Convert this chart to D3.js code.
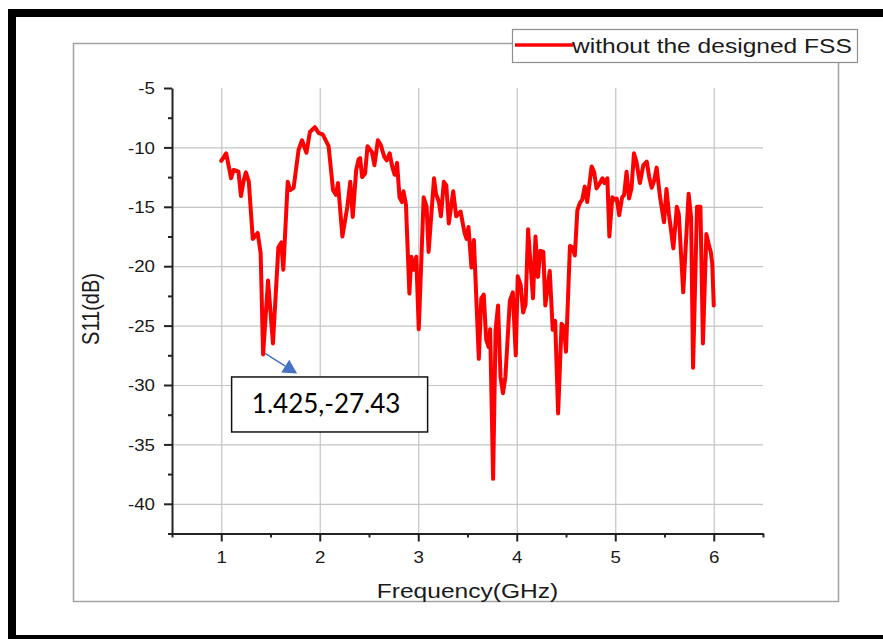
<!DOCTYPE html>
<html>
<head>
<meta charset="utf-8">
<script src="https://cdn.jsdelivr.net/npm/d3@7"></script>
<style>
  body { margin: 0; background: #fff; }
  svg { display: block; }
  text { font-family: "Liberation Sans", Arial, sans-serif; fill: #1a1a1a; }
</style>
</head>
<body>
<div id="chart"></div>
<script>
// S11 curve
const freq = [1.00, 1.05, 1.10, 1.125, 1.175, 1.20, 1.225, 1.25, 1.28, 1.32, 1.37, 1.40, 1.425, 1.475, 1.525,
  1.58, 1.61, 1.63, 1.675, 1.70, 1.735, 1.785, 1.82, 1.865, 1.90, 1.95, 1.99, 2.03, 2.09, 2.135, 2.165, 2.185,
  2.23, 2.28, 2.31, 2.335, 2.37, 2.395, 2.41, 2.43, 2.46, 2.485, 2.53, 2.555, 2.59, 2.62, 2.655, 2.68, 2.71,
  2.735, 2.76, 2.785, 2.81, 2.835, 2.85, 2.875, 2.91, 2.93, 2.955, 2.98, 3.005, 3.055, 3.085, 3.105, 3.16,
  3.18, 3.21, 3.23, 3.26, 3.285, 3.31, 3.355, 3.385, 3.43, 3.47, 3.49, 3.51, 3.54, 3.565, 3.615, 3.64, 3.665,
  3.69, 3.715, 3.73, 3.76, 3.785, 3.81, 3.835, 3.86, 3.885, 3.93, 3.96, 3.99, 4.01, 4.04, 4.065, 4.09, 4.115,
  4.14, 4.165, 4.19, 4.215, 4.24, 4.27, 4.29, 4.335, 4.365, 4.39, 4.42, 4.455, 4.48, 4.50, 4.54, 4.565, 4.59,
  4.615, 4.64, 4.665, 4.69, 4.715, 4.76, 4.785, 4.81, 4.845, 4.87, 4.89, 4.92, 4.94, 4.97, 4.995, 5.015, 5.04,
  5.07, 5.09, 5.115, 5.14, 5.165, 5.19, 5.215, 5.25, 5.285, 5.32, 5.345, 5.37, 5.395, 5.42, 5.455, 5.495, 5.52,
  5.545, 5.59, 5.625, 5.645, 5.69, 5.745, 5.77, 5.79, 5.83, 5.865, 5.89, 5.925, 5.95, 5.97, 5.985, 6.00];
const s11 = [-11.13, -10.5, -12.6, -11.9, -12.05, -14.1, -12.9, -12.1, -12.9, -17.7, -17.2, -18.9, -27.43, -21.2, -26.5,
  -18.4, -18.0, -20.3, -12.9, -13.6, -13.4, -10.2, -9.4, -10.45, -8.7, -8.3, -8.8, -8.9, -9.9, -13.6, -14.0, -13.0,
  -17.5, -15.0, -12.9, -15.85, -11.9, -11.0, -10.9, -12.5, -12.2, -9.9, -10.4, -11.5, -9.4, -9.8, -10.8, -11.1, -10.5,
  -11.6, -12.3, -11.3, -14.2, -14.6, -13.7, -14.8, -22.3, -19.2, -20.3, -19.2, -25.3, -14.2, -15.0, -18.8, -12.6,
  -13.9, -14.6, -15.8, -12.9, -13.2, -16.4, -13.7, -15.8, -15.4, -17.2, -17.7, -16.7, -20.1, -17.8, -27.8, -22.7, -22.4,
  -26.2, -26.8, -25.3, -37.9, -25.4, -23.3, -29.3, -30.7, -29.3, -22.9, -22.2, -27.5, -20.85, -21.6, -23.9, -23.2, -16.9,
  -19.8, -22.7, -17.5, -20.9, -18.7, -18.8, -23.3, -20.4, -25.35, -24.6, -32.4, -24.85, -25.1, -27.2, -18.3, -18.4, -19.1,
  -15.3, -14.7, -14.4, -13.3, -14.6, -11.6, -12.05, -13.45, -13.0, -12.6, -13.0, -12.6, -17.5, -14.2, -14.4, -14.3, -15.7,
  -14.2, -14.0, -12.05, -14.3, -13.45, -10.5, -11.2, -13.0, -11.5, -11.2, -12.5, -13.4, -12.8, -11.7, -14.2, -16.3, -13.5,
  -15.6, -18.5, -15.0, -15.6, -22.2, -13.9, -15.85, -28.55, -15.0, -15.0, -26.5, -17.3, -18.2, -18.8, -19.8, -23.3];

const xTicks = [1, 2, 3, 4, 5, 6];
const xMinor = [0.5, 1.5, 2.5, 3.5, 4.5, 5.5, 6.5];
const yTicks = [-5, -10, -15, -20, -25, -30, -35, -40];
const yMinor = [-7.5, -12.5, -17.5, -22.5, -27.5, -32.5, -37.5, -42.5];
const seriesName = "without the designed FSS";
const marker = { f: 1.425, v: -27.43, label: "1.425,-27.43" };

const W = 883, H = 639;
const SX = 1.17; // the source picture is stretched sideways, so is its text

const svg = d3.select("#chart").append("svg")
  .attr("width", W)
  .attr("height", H);

// outer black frame (left, top, bottom only)
svg.append("rect").attr("x", 8).attr("y", 9).attr("width", 8).attr("height", 630).attr("fill", "#000");
svg.append("rect").attr("x", 8).attr("y", 9).attr("width", 875).attr("height", 8).attr("fill", "#000");
svg.append("rect").attr("x", 8).attr("y", 635).attr("width", 875).attr("height", 4).attr("fill", "#000");

// grey page frame
svg.append("rect")
  .attr("x", 73.5).attr("y", 43.5)
  .attr("width", 765).attr("height", 558)
  .attr("fill", "none")
  .attr("stroke", "#a3a3a3")
  .attr("stroke-width", 1.5);

const x = d3.scaleLinear().domain([0.5, 6.5]).range([172, 763]);
const y = d3.scaleLinear().domain([-42.5, -5]).range([533.5, 88]);

// grid
svg.append("g")
  .attr("transform", "translate(0," + y(-42.5) + ")")
  .call(d3.axisBottom(x).tickValues(xTicks).tickSize(-(y(-42.5) - y(-5))).tickFormat(""))
  .call(g => g.select(".domain").remove())
  .call(g => g.selectAll("line").attr("stroke", "#c4c4c4").attr("stroke-width", 1.2));

svg.append("g")
  .attr("transform", "translate(" + x(0.5) + ",0)")
  .call(d3.axisLeft(y).tickValues(yTicks.filter(d => d !== -5)).tickSize(-(x(6.5) - x(0.5))).tickFormat(""))
  .call(g => g.select(".domain").remove())
  .call(g => g.selectAll("line").attr("stroke", "#c4c4c4").attr("stroke-width", 1.2));

// curve
const data = freq.map((f, i) => ({ f: f, v: s11[i] }));
const line = d3.line().x(d => x(d.f)).y(d => y(d.v));

svg.append("path")
  .datum(data)
  .attr("d", line)
  .attr("fill", "none")
  .attr("stroke", "#ff0000")
  .attr("stroke-width", 4)
  .attr("stroke-linejoin", "round")
  .attr("stroke-linecap", "round");

// axes
const axisColor = "#222";
const plain = d => String(d); // keep the ascii hyphen for negatives

const xAxis = svg.append("g")
  .attr("transform", "translate(0," + y(-42.5) + ")")
  .call(d3.axisBottom(x).tickValues(xTicks).tickSize(8).tickSizeOuter(0).tickFormat(plain));
xAxis.append("g")
  .call(d3.axisBottom(x).tickValues(xMinor).tickSize(4).tickSizeOuter(0).tickFormat(""))
  .call(g => g.select(".domain").remove());
xAxis.selectAll("path, line").attr("stroke", axisColor).attr("stroke-width", 2);
xAxis.selectAll(".tick text")
  .attr("y", null).attr("dy", null)
  .attr("transform", "translate(0,29) scale(" + SX + ",1)")
  .style("font-size", "16px")
  .style("fill", "#1a1a1a");

const yAxis = svg.append("g")
  .attr("transform", "translate(" + x(0.5) + ",0)")
  .call(d3.axisLeft(y).tickValues(yTicks).tickSize(8).tickSizeOuter(0).tickFormat(plain));
yAxis.append("g")
  .call(d3.axisLeft(y).tickValues(yMinor).tickSize(4).tickSizeOuter(0).tickFormat(""))
  .call(g => g.select(".domain").remove());
yAxis.selectAll("path, line").attr("stroke", axisColor).attr("stroke-width", 2);
yAxis.selectAll(".tick text")
  .attr("x", null).attr("dy", "0.36em")
  .attr("transform", "translate(-17,0) scale(" + SX + ",1)")
  .style("font-size", "16px")
  .style("fill", "#1a1a1a");

// axis titles
svg.append("text")
  .attr("transform", "translate(" + x(3.5) + ",598) scale(" + SX + ",1)")
  .attr("text-anchor", "middle")
  .style("font-size", "21px")
  .text("Frequency(GHz)");

svg.append("text")
  .attr("transform", "translate(99," + y(-23.6) + ") scale(" + SX + ",1) rotate(-90)")
  .attr("text-anchor", "middle")
  .style("font-size", "20px")
  .text("S11(dB)");

// legend
const legend = svg.append("g");
legend.append("rect")
  .attr("x", 512.5).attr("y", 29.5)
  .attr("width", 345).attr("height", 33)
  .attr("fill", "#fff")
  .attr("stroke", "#8e8e8e")
  .attr("stroke-width", 1.2);
legend.append("line")
  .attr("x1", 515).attr("x2", 573)
  .attr("y1", 45).attr("y2", 45)
  .attr("stroke", "#ff0000")
  .attr("stroke-width", 3.5);
legend.append("text")
  .attr("transform", "translate(572,53) scale(" + SX + ",1)")
  .style("font-size", "21px")
  .text(seriesName);

// data marker callout
const px = x(marker.f), py = y(marker.v);
const ax0 = px + 2, ay0 = py - 1, ax1 = px + 34, ay1 = py + 19;
const ang = Math.atan2(ay1 - ay0, ax1 - ax0);
const headLen = 14, headHalf = 7.5;
const bx = ax1 - headLen * Math.cos(ang), by = ay1 - headLen * Math.sin(ang);

svg.append("line")
  .attr("x1", ax0).attr("y1", ay0)
  .attr("x2", bx).attr("y2", by)
  .attr("stroke", "#4472c4")
  .attr("stroke-width", 1.5);
svg.append("path")
  .attr("d", "M" + ax1 + "," + ay1 +
    "L" + (bx + headHalf * Math.sin(ang)) + "," + (by - headHalf * Math.cos(ang)) +
    "L" + (bx - headHalf * Math.sin(ang)) + "," + (by + headHalf * Math.cos(ang)) + "Z")
  .attr("fill", "#4472c4");

svg.append("rect")
  .attr("x", px - 31.5).attr("y", py + 22.5)
  .attr("width", 196).attr("height", 55)
  .attr("fill", "#fff")
  .attr("stroke", "#111")
  .attr("stroke-width", 1.5);
svg.append("text")
  .attr("x", px + 63).attr("y", py + 59)
  .attr("text-anchor", "middle")
  .style("font-family", "Lato, 'Open Sans', sans-serif")
  .style("font-size", "26px")
  .style("fill", "#000")
  .text(marker.label);
</script>
</body>
</html>
